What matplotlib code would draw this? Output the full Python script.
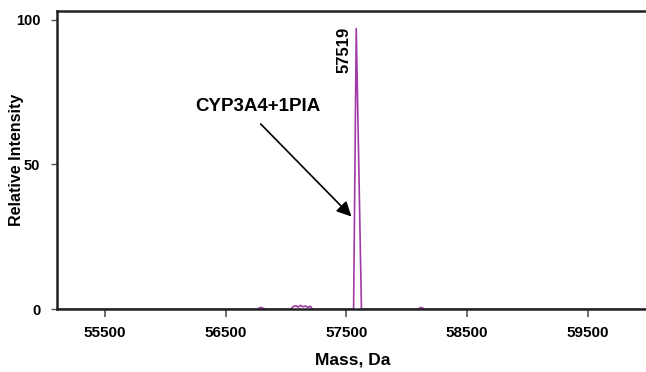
import numpy as np
import matplotlib.pyplot as plt

plt.rcParams['font.family'] = ['Liberation Sans', 'DejaVu Sans']

# deconvoluted spectrum (mass in Da, relative intensity)
mass = [55100, 56760, 56790, 56810, 56830, 57040, 57060, 57080, 57100, 57120,
        57140, 57160, 57180, 57200, 57220, 57540, 57560, 57582, 57625, 57650,
        58090, 58120, 58150, 60000]
intensity = [0.0, 0.0, 0.6, 0.3, 0.0, 0.0, 0.9, 1.2, 0.7, 1.3,
             0.8, 1.1, 0.6, 1.0, 0.0, 0.0, 0.0, 97.0, 0.0, 0.0,
             0.0, 0.6, 0.0, 0.0]

x_ticks = [55500, 56500, 57500, 58500, 59500]
y_ticks = [0, 50, 100]
peak_label = "57519"
peak_mass = 57582
peak_int = 97.0
species = "CYP3A4+1PIA"

fig = plt.figure(figsize=(6.46, 3.72), dpi=100)
ax = fig.add_axes([0.088, 0.169, 0.915, 0.801])

ax.plot(mass, intensity, color='#a03aa6', linewidth=1.2)

ax.set_xlim(55100, 60000)
ax.set_ylim(0, 103)
ax.set_xticks(x_ticks)
ax.set_yticks(y_ticks)
ax.set_xticklabels([str(t) for t in x_ticks], fontsize=11, fontweight='bold')
ax.set_yticklabels([str(t) for t in y_ticks], fontsize=10.5, fontweight='bold')
ax.tick_params(axis='x', length=6, width=1.2, color='#555555', pad=6)
ax.tick_params(axis='y', length=4, width=1.0, color='#555555', pad=8)

for side in ['left', 'bottom', 'top']:
    ax.spines[side].set_linewidth(1.8)
    ax.spines[side].set_color('#222222')
ax.spines['right'].set_visible(False)

ax.set_xlabel('Mass, Da', fontsize=12.5, fontweight='bold', labelpad=9)
ax.set_ylabel('Relative Intensity', fontsize=11.5, fontweight='bold')
ax.yaxis.set_label_coords(-0.056, 0.5)

# peak label
ax.text(peak_mass - 40, peak_int + 0.5, peak_label, rotation=90, ha='right', va='top',
        fontsize=12, fontweight='bold')

# species label and arrow
ax.text(56770, 67, species, ha='center', va='bottom', fontsize=13.5, fontweight='bold')
ax.annotate('', xy=(peak_mass - 40, 32), xytext=(56790, 64),
            arrowprops=dict(arrowstyle='-|>', color='black', lw=1.2,
                            mutation_scale=22, shrinkA=0, shrinkB=0))

plt.savefig("out.png", dpi=100)
